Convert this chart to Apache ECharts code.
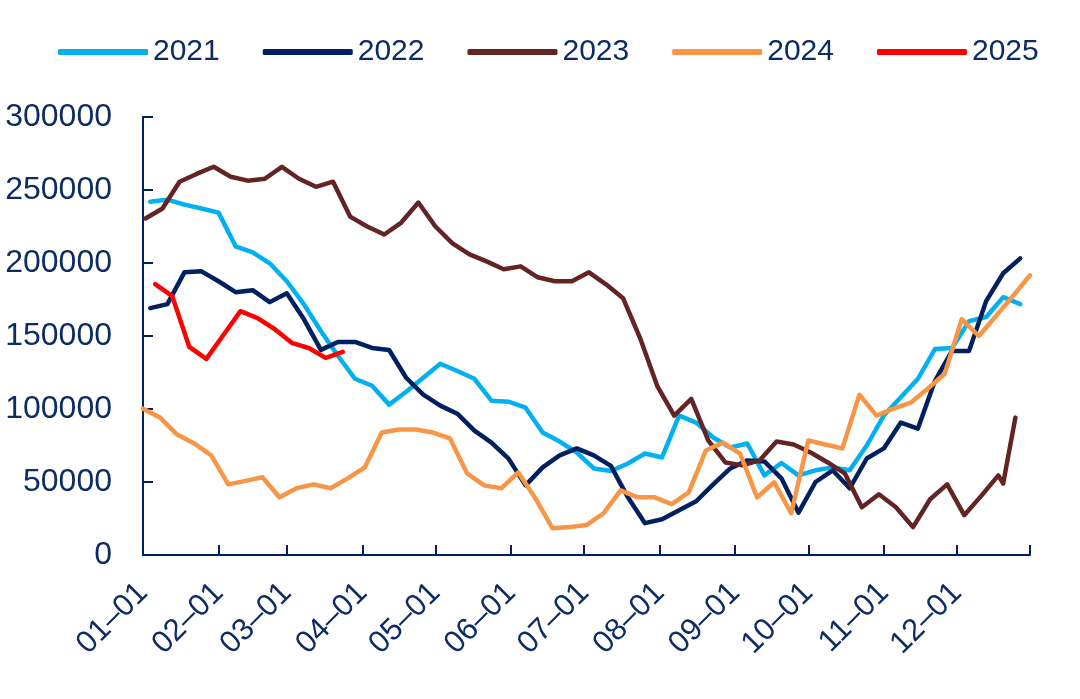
<!DOCTYPE html>
<html><head><meta charset="utf-8">
<script src="https://cdn.jsdelivr.net/npm/echarts@6/dist/echarts.min.js"></script>
<style>html,body{margin:0;padding:0;background:#fff}#c{width:1080px;height:699px}</style>
</head><body><div id="c"></div>
<script>
// ---- data ----
const seriesNames = ['2021', '2022', '2023', '2024', '2025'];
const monthTickLabels = ['01-01','02-01','03-01','04-01','05-01','06-01','07-01','08-01','09-01','10-01','11-01','12-01'];
const monthLengths = [31,28,31,30,31,30,31,31,30,31,30,31];
const yTicks = [0, 50000, 100000, 150000, 200000, 250000, 300000];

const v2021 = [242000,243400,240000,237300,234500,211400,207300,199800,187500,171800,153400,136400,120700,115900,103000,111800,121400,131000,126000,120700,105700,105000,100900,83900,77700,70200,59300,57500,62700,69500,66800,95500,90700,80500,73600,76400,54500,63000,54500,58000,60000,58000,75000,95500,108000,120700,141100,141800,160200,163000,176600,171800];
const v2022 = [169100,171800,193600,194300,187500,180000,181400,173200,179300,161600,140500,145900,145900,141800,140400,121400,109800,102300,96800,85200,77000,66000,47700,60000,68200,73000,68200,61000,39500,21800,24500,30700,36800,48400,59300,64800,64100,52500,29000,50000,58000,45700,66100,73000,90700,86600,119300,139800,139800,173900,193000,203200];
const v2023 = [230500,237300,255700,261000,265900,259100,256400,257700,265900,257700,252200,255700,231800,225000,219500,227700,241400,225000,213400,205900,201100,195700,197700,190200,187500,187500,193600,185400,175900,148600,115900,95500,107000,78400,63400,61400,64800,77700,75700,70200,63400,55900,32700,41600,32700,19100,38200,48400,27300,40500,54500,49000,94100];
const v2024 = [100200,94100,82500,76400,68200,48400,50800,53200,39500,45700,48400,45700,52500,60000,83900,85900,85900,83900,79800,55900,47700,45700,56600,38900,18400,19100,20500,28600,44300,39500,39500,34800,43000,71600,77000,69500,39500,49800,28600,78400,75700,73000,109800,95500,100200,104300,113900,124100,161600,150000,163600,177300,191600];
const v2025 = [185500,177300,142500,134300,150700,167000,162300,154800,145300,141800,135000,139100];

// day-of-year positions of each series' weekly observations
function weekly(start, n) { const a = []; for (let i = 0; i < n; i++) a.push(start + 7 * i); return a; }
const days2021 = weekly(3, 52);
const days2022 = weekly(3, 52);
const days2023 = weekly(1, 51).concat([353, 358]);
const days2024 = weekly(0, 53);
const days2025 = weekly(5, 12);

const colors = ['#00B0F0', '#002060', '#632523', '#F79646', '#FF0000'];
const textColor = '#0d2b64';
const axisColor = '#002060';
const font = "'Liberation Sans', Arial, sans-serif";

// ---- build axis categories (every day of a non-leap year) ----
const dayCats = [];
const monthStartIdx = new Set();
let idx = 0;
monthLengths.forEach((len, m) => {
  for (let d = 1; d <= len; d++) {
    const lab = String(m + 1).padStart(2, '0') + '-' + String(d).padStart(2, '0');
    if (d === 1) monthStartIdx.add(idx);
    dayCats.push(lab);
    idx++;
  }
});
const lastIdx = dayCats.length - 1;

function pairs(days, vals) { return vals.map((v, i) => [days[i], v]); }
const allDays = [days2021, days2022, days2023, days2024, days2025];
const allVals = [v2021, v2022, v2023, v2024, v2025];

const chart = echarts.init(document.getElementById('c'), null, { renderer: 'canvas' });
chart.setOption({
  animation: false,
  backgroundColor: '#fff',
  color: colors,
  legend: {
    data: seriesNames,
    top: 37, left: 58,
    itemWidth: 90, itemHeight: 6, itemGap: 43,
    icon: 'roundRect',
    padding: 0,
    textStyle: { fontSize: 30, color: textColor, fontFamily: font }
  },
  grid: { left: 143, right: 50, top: 117, bottom: 144, containLabel: false },
  xAxis: {
    type: 'category',
    data: dayCats,
    boundaryGap: false,
    axisLine: { lineStyle: { color: axisColor, width: 2 } },
    axisTick: {
      inside: true, length: 10,
      interval: (i) => monthStartIdx.has(i) || i === lastIdx,
      lineStyle: { color: axisColor, width: 2 }
    },
    axisLabel: {
      interval: (i, v) => monthStartIdx.has(i) && monthTickLabels.includes(v),
      rotate: 45, margin: 33,
      fontSize: 31, color: textColor, fontFamily: font,
      formatter: (v) => v.replace('-', '\u2013')
    },
    splitLine: { show: false }
  },
  yAxis: {
    type: 'value',
    min: yTicks[0], max: yTicks[yTicks.length - 1], interval: yTicks[1] - yTicks[0],
    axisLine: { show: true, lineStyle: { color: axisColor, width: 2 } },
    axisTick: { show: true, inside: true, length: 10, lineStyle: { color: axisColor, width: 2 } },
    axisLabel: { fontSize: 32, margin: 31, color: textColor, fontFamily: font, formatter: (v) => String(v) },
    splitLine: { show: false }
  },
  series: seriesNames.map((name, i) => ({
    name: name,
    type: 'line',
    data: pairs(allDays[i], allVals[i]),
    symbol: 'none',
    showSymbol: false,
    lineStyle: { width: 4.5, color: colors[i], cap: 'round', join: 'round' },
    itemStyle: { color: colors[i] },
    z: 2 + i
  }))
});
</script>
</body></html>
